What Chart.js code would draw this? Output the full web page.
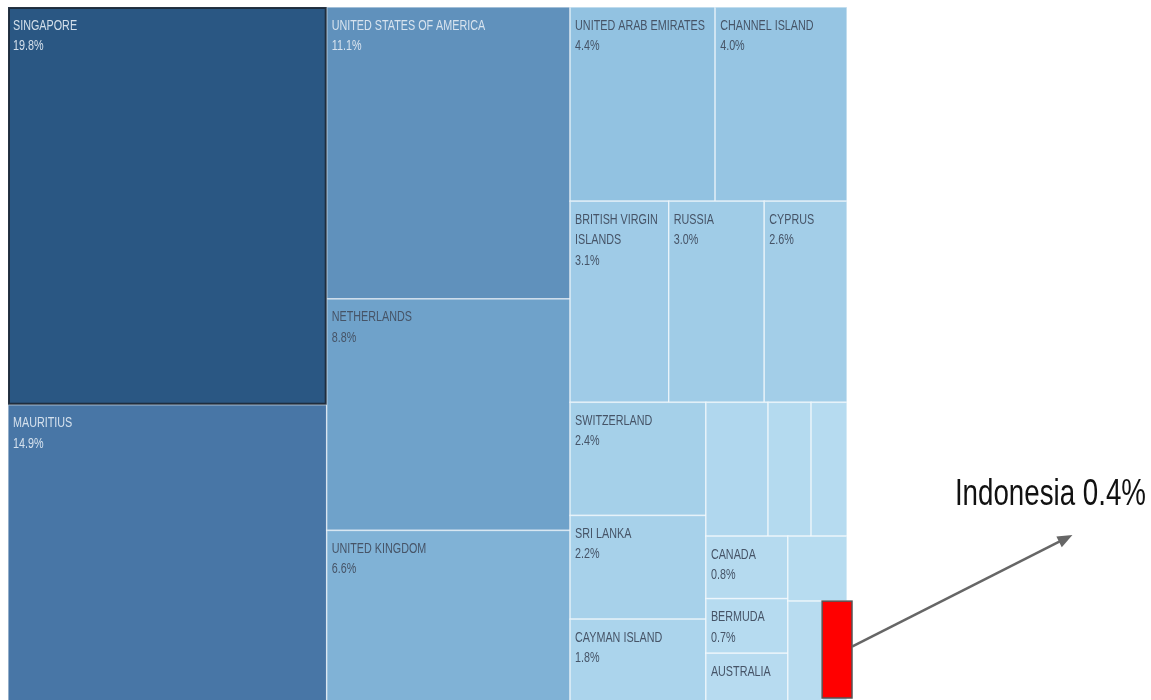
<!DOCTYPE html>
<html>
<head>
<meta charset="utf-8">
<script src="https://cdn.jsdelivr.net/npm/chart.js@4.4.1/dist/chart.umd.min.js"></script>
<style>
  html, body { margin: 0; padding: 0; background: #fff; overflow: hidden; }
  canvas { display: block; }
</style>
</head>
<body>
<canvas id="treemap" width="1151" height="705"></canvas>
<script>
// Share of inflows by source country (%), sorted as in the source treemap.
// Empty names are boxes whose label was not printed.
const countries = [
  'Singapore', 'Mauritius', 'United States of America', 'Netherlands', 'United Kingdom',
  'United Arab Emirates', 'Channel Island', 'British Virgin Islands', 'Russia', 'Cyprus',
  'Switzerland', 'Sri Lanka', 'Cayman Island', '', '', '',
  'Canada', 'Bermuda', 'Australia', '', '', 'Indonesia'
];
const shares = [
  19.8, 14.9, 11.1, 8.8, 6.6,
  4.4, 4.0, 3.1, 3.0, 2.6,
  2.4, 2.2, 1.8, 1.3, 0.9, 0.75,
  0.8, 0.7, 0.65, 0.6, 0.55, 0.4
];
const highlighted = 'Singapore';
const callout = 'Indonesia';

// sequential blue ramp, light -> dark
const ramp = ['#b9ddf1', '#93c3e2', '#6fa2ca', '#4876a6', '#2a5783'];
const rampStops = [0, 0.2, 0.43, 0.75, 1];

// how many boxes go in each strip (Tableau-like slicing)
const stripSizes = [2, 3, 2, 3, 3, 3, 3, 1, 2];

// no narrow font installed, so squeeze Liberation Sans horizontally
const NARROW = 0.77;

function hexToRgb(h) {
  return [1, 3, 5].map(i => parseInt(h.slice(i, i + 2), 16));
}

function colorFor(v) {
  const min = Math.min(...shares), max = Math.max(...shares);
  const t = (v - min) / (max - min);
  let k = 1;
  while (k < rampStops.length - 1 && t > rampStops[k]) k++;
  const f = (t - rampStops[k - 1]) / (rampStops[k] - rampStops[k - 1]);
  const a = hexToRgb(ramp[k - 1]), b = hexToRgb(ramp[k]);
  return a.map((c, i) => Math.round(c + (b[i] - c) * f));
}

// lay the values out in strips: a column when the free area is wide enough, else a row
function layoutStrips(values, w, h) {
  const total = values.reduce((a, b) => a + b, 0);
  const unit = (w * h) / total;
  let x = 0, y = 0, rw = w, rh = h, i = 0;
  const rects = [];
  stripSizes.forEach(n => {
    const group = values.slice(i, i + n);
    const sum = group.reduce((a, b) => a + b, 0);
    if (rw / rh > 0.618) {
      const sw = sum * unit / rh;
      let yy = y;
      group.forEach(v => {
        const hh = v * unit / sw;
        rects.push({ x0: x, y0: yy, x1: x + sw, y1: yy + hh });
        yy += hh;
      });
      x += sw; rw -= sw;
    } else {
      const sh = sum * unit / rw;
      let xx = x;
      group.forEach(v => {
        const ww = v * unit / sh;
        rects.push({ x0: xx, y0: y, x1: xx + ww, y1: y + sh });
        xx += ww;
      });
      y += sh; rh -= sh;
    }
    i += n;
  });
  return rects;
}

function textWidth(ctx, t) {
  return ctx.measureText(t).width * NARROW;
}

function fillNarrow(ctx, t, x, y) {
  ctx.save();
  ctx.translate(x, y);
  ctx.scale(NARROW, 1);
  ctx.fillText(t, 0, 0);
  ctx.restore();
}

function wrapText(ctx, text, maxW) {
  const words = text.split(' ');
  const lines = [];
  let line = '';
  for (const w of words) {
    if (textWidth(ctx, w) > maxW) return null;
    const test = line ? line + ' ' + w : w;
    if (textWidth(ctx, test) <= maxW) {
      line = test;
    } else {
      lines.push(line);
      line = w;
    }
  }
  if (line) lines.push(line);
  return lines;
}

const treemapPlugin = {
  id: 'treemap',
  afterDraw(chart) {
    const { ctx, chartArea, scales: { x, y } } = chart;
    const aspect = chartArea.width / chartArea.height;
    const boxes = layoutStrips(shares, aspect, 1).map(r => ({
      left: x.getPixelForValue(r.x0 / aspect),
      right: x.getPixelForValue(r.x1 / aspect),
      top: y.getPixelForValue(r.y0),
      bottom: y.getPixelForValue(r.y1)
    }));

    ctx.save();
    // cells
    boxes.forEach((b, i) => {
      const rgb = colorFor(shares[i]);
      ctx.fillStyle = `rgb(${rgb.join(',')})`;
      ctx.fillRect(b.left, b.top, b.right - b.left, b.bottom - b.top);
      ctx.strokeStyle = 'rgba(255,255,255,0.55)';
      ctx.lineWidth = 1.5;
      ctx.strokeRect(b.left, b.top, b.right - b.left, b.bottom - b.top);
    });

    // selected cell outline
    const hi = boxes[countries.indexOf(highlighted)];
    ctx.strokeStyle = 'rgba(28,40,54,0.9)';
    ctx.lineWidth = 2;
    ctx.strokeRect(hi.left + 1, hi.top + 1, hi.right - hi.left - 2, hi.bottom - hi.top - 2);

    // labels
    ctx.font = '14px "Liberation Sans", Arial, sans-serif';
    ctx.textAlign = 'left';
    ctx.textBaseline = 'alphabetic';
    boxes.forEach((b, i) => {
      if (!countries[i]) return;
      const nameLines = wrapText(ctx, countries[i].toUpperCase(), b.right - b.left - 10);
      if (!nameLines) return;
      const lines = nameLines.concat(shares[i].toFixed(1) + '%');
      const rgb = colorFor(shares[i]);
      const lum = (0.299 * rgb[0] + 0.587 * rgb[1] + 0.114 * rgb[2]) / 255;
      ctx.fillStyle = lum < 0.55 ? 'rgba(226,234,243,0.92)' : '#465467';
      lines.forEach((t, k) => {
        const base = b.top + 22.5 + k * 20.5;
        if (base + 9 > b.bottom) return;
        fillNarrow(ctx, t, b.left + 5, base);
      });
    });

    // call-out for the small country
    const ci = countries.indexOf(callout);
    const cb = boxes[ci];
    const red = { left: cb.left, right: cb.right + 5, top: cb.top, bottom: cb.bottom - 6 };
    ctx.fillStyle = '#ff0000';
    ctx.fillRect(red.left, red.top, red.right - red.left, red.bottom - red.top);
    ctx.strokeStyle = '#555';
    ctx.lineWidth = 1.5;
    ctx.strokeRect(red.left, red.top, red.right - red.left, red.bottom - red.top);

    const label = `${callout} ${shares[ci].toFixed(1)}%`;
    ctx.font = '36px "Liberation Sans", Arial, sans-serif';
    ctx.fillStyle = '#111';
    const tw = textWidth(ctx, label);
    const textRight = chart.width - 5, textBase = 505;
    fillNarrow(ctx, label, textRight - tw, textBase);

    const sx = red.right, sy = red.top + (red.bottom - red.top) * 0.47;
    const ex = textRight - tw / 2 + 22, ey = textBase + 30;
    const ang = Math.atan2(ey - sy, ex - sx);
    ctx.strokeStyle = '#666';
    ctx.fillStyle = '#666';
    ctx.lineWidth = 2.5;
    ctx.beginPath();
    ctx.moveTo(sx, sy);
    ctx.lineTo(ex - 12 * Math.cos(ang), ey - 12 * Math.sin(ang));
    ctx.stroke();
    ctx.beginPath();
    ctx.moveTo(ex, ey);
    ctx.lineTo(ex - 15 * Math.cos(ang) + 6 * Math.sin(ang), ey - 15 * Math.sin(ang) - 6 * Math.cos(ang));
    ctx.lineTo(ex - 15 * Math.cos(ang) - 6 * Math.sin(ang), ey - 15 * Math.sin(ang) + 6 * Math.cos(ang));
    ctx.closePath();
    ctx.fill();
    ctx.restore();
  }
};

new Chart(document.getElementById('treemap'), {
  type: 'scatter',
  data: { datasets: [{ data: [], pointRadius: 0 }] },
  options: {
    responsive: false,
    animation: false,
    layout: { padding: { left: 8, top: 7, right: 304, bottom: 1 } },
    plugins: { legend: { display: false }, tooltip: { enabled: false } },
    scales: {
      x: { type: 'linear', min: 0, max: 1, display: false },
      y: { type: 'linear', min: 0, max: 1, reverse: true, display: false }
    }
  },
  plugins: [treemapPlugin]
});
</script>
</body>
</html>
